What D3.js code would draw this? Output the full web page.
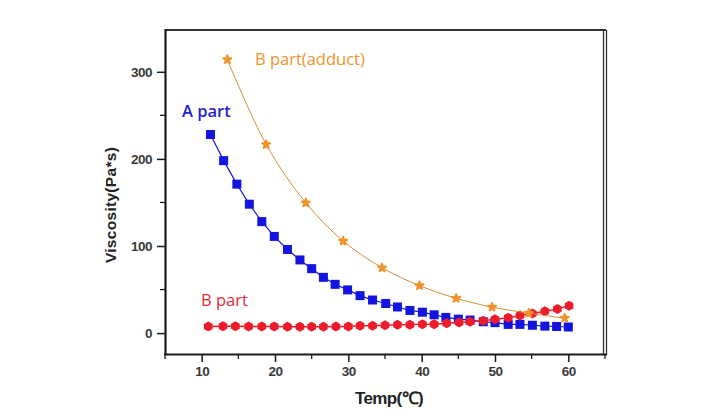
<!DOCTYPE html>
<html>
<head>
<meta charset="utf-8">
<script src="https://cdn.jsdelivr.net/npm/d3@7"></script>
<style>
  html, body { margin: 0; padding: 0; background: #fff; }
  svg { display: block; }
</style>
</head>
<body>
<svg id="chart" width="728" height="419"></svg>
<script>
// ---- data ----
const aTemps = [11.2, 13.0, 14.8, 16.5, 18.2, 19.9, 21.7, 23.4, 25.0, 26.6, 28.2, 29.9, 31.6, 33.3, 35.1,
                36.7, 38.4, 40.1, 41.7, 43.3, 45.0, 46.6, 48.4, 50.0, 51.8, 53.4, 55.1, 56.8, 58.4, 60.0];
const aValues = [228, 198, 171, 148, 128, 111, 96, 84, 74, 64, 56, 49.6, 43, 38, 34,
                 30, 26, 24, 21, 18, 16, 15, 13, 12, 10, 10, 9, 8, 7.6, 7];

const bTemps = [10.9, 12.9, 14.6, 16.4, 18.2, 19.9, 21.7, 23.4, 25.0, 26.6, 28.3, 30.0, 31.6, 33.3, 35.0,
                36.7, 38.4, 40.1, 41.7, 43.4, 45.1, 46.6, 48.4, 50.0, 51.8, 53.4, 55.1, 56.8, 58.5, 60.1];
const bValues = [7.6, 8, 8, 7.6, 7.6, 7.6, 7.2, 7.2, 7.2, 7.2, 7.6, 7.6, 8.3, 8.3, 9.1,
                 9.5, 9.5, 10.3, 10.3, 11.4, 12.2, 12.9, 14.1, 16, 17.5, 20.2, 22.5, 25.2, 27.8, 31.3];

const adductTemps = [13.5, 18.8, 24.2, 29.3, 34.6, 39.7, 44.7, 49.6, 54.6, 59.5];
const adductValues = [314, 216.5, 149.6, 105.7, 75, 54.5, 40, 29.8, 22.9, 17.2];

const xTicks = [10, 20, 30, 40, 50, 60];
const xMinorTicks = [5, 15, 25, 35, 45, 55, 65];
const yTicks = [0, 100, 200, 300];
const yMinorTicks = [50, 150, 250];

const xLabel = "Temp(\u2103)";
const yLabel = "Viscosity(Pa*s)";
const labelA = "A part";
const labelB = "B part";
const labelAdduct = "B part(adduct)";

// ---- drawing ----
const svg = d3.select("#chart");
const L = 165, R = 605, T = 30, B = 354;

const x = d3.scaleLinear().domain([5, 65]).range([L, R]);
const y = d3.scaleLinear().domain([-24, 348]).range([B, T]);

const blue = "#1414e0", red = "#ee1c2a", orange = "#f0932b";
const axisColor = "#1a1a1a";

// frame: top + right double line
svg.append("line").attr("x1", L).attr("x2", R + 1).attr("y1", T).attr("y2", T)
  .attr("stroke", "#333").attr("stroke-width", 2);
svg.append("line").attr("x1", R - 1.5).attr("x2", R - 1.5).attr("y1", T).attr("y2", B)
  .attr("stroke", "#333").attr("stroke-width", 1.3);
svg.append("line").attr("x1", R + 1.5).attr("x2", R + 1.5).attr("y1", T).attr("y2", B + 1)
  .attr("stroke", "#333").attr("stroke-width", 1.3);

// axes
const fontTick = "'Liberation Sans', Arial, sans-serif";
const xAxis = d3.axisBottom(x).tickValues(xTicks).tickSize(8).tickSizeOuter(0).tickPadding(4);
const gx = svg.append("g").attr("transform", `translate(0,${B})`).call(xAxis);
const yAxis = d3.axisLeft(y).tickValues(yTicks).tickSize(8).tickSizeOuter(0).tickPadding(5);
const gy = svg.append("g").attr("transform", `translate(${L},0)`).call(yAxis);

[gx, gy].forEach(g => {
  g.select(".domain").attr("stroke", axisColor).attr("stroke-width", 2.2);
  g.selectAll(".tick line").attr("stroke", axisColor).attr("stroke-width", 1.5);
  g.selectAll(".tick text").attr("fill", "#3a3a3a").attr("font-family", fontTick)
    .attr("font-weight", "bold").attr("font-size", 13.5).attr("letter-spacing", -0.5);
});
// extend axis domains to meet corners
gx.select(".domain").attr("d", `M${L - 1},0.5H${R + 2}`);
gy.select(".domain").attr("d", `M0.5,${T - 1}V${B + 1}`);

// minor ticks
svg.append("g").selectAll("line").data(xMinorTicks).join("line")
  .attr("x1", d => x(d)).attr("x2", d => x(d)).attr("y1", B).attr("y2", B + 5)
  .attr("stroke", axisColor).attr("stroke-width", 1.3);
svg.append("g").selectAll("line").data(yMinorTicks).join("line")
  .attr("x1", L - 5).attr("x2", L).attr("y1", d => y(d)).attr("y2", d => y(d))
  .attr("stroke", axisColor).attr("stroke-width", 1.3);

// axis titles
svg.append("text").attr("x", 389).attr("y", 404).attr("text-anchor", "middle")
  .attr("font-family", fontTick).attr("font-weight", "bold").attr("font-size", 17)
  .attr("fill", "#222").attr("letter-spacing", -0.6).text(xLabel);
svg.append("text").attr("transform", "translate(116,205) rotate(-90)").attr("text-anchor", "middle")
  .attr("font-family", fontTick).attr("font-weight", "bold").attr("font-size", 15.5)
  .attr("fill", "#222").attr("letter-spacing", 0.3).text(yLabel);

// series
const aData = aTemps.map((t, i) => [t, aValues[i]]);
const bData = bTemps.map((t, i) => [t, bValues[i]]);
const adData = adductTemps.map((t, i) => [t, adductValues[i]]);

const line = d3.line().x(d => x(d[0])).y(d => y(d[1]));
const smooth = d3.line().x(d => x(d[0])).y(d => y(d[1])).curve(d3.curveCatmullRom.alpha(0.5));

// A part
svg.append("path").datum(aData).attr("d", line).attr("fill", "none")
  .attr("stroke", blue).attr("stroke-width", 1.2);
svg.append("g").selectAll("rect").data(aData).join("rect")
  .attr("x", d => x(d[0]) - 4.5).attr("y", d => y(d[1]) - 4.5)
  .attr("width", 9).attr("height", 9).attr("fill", blue);

// B part
svg.append("path").datum(bData).attr("d", line).attr("fill", "none")
  .attr("stroke", red).attr("stroke-width", 1.5);
const hex = d3.line()(d3.range(6).map(k => {
  const a = Math.PI / 6 + k * Math.PI / 3;
  return [5 * Math.cos(a), 5 * Math.sin(a)];
})) + "Z";
svg.append("g").selectAll("path").data(bData).join("path")
  .attr("transform", d => `translate(${x(d[0])},${y(d[1])})`)
  .attr("d", hex).attr("fill", red);

// B part (adduct)
svg.append("path").datum(adData).attr("d", smooth).attr("fill", "none")
  .attr("stroke", "#d98a3a").attr("stroke-width", 1);
const star = d3.symbol().type(d3.symbolStar).size(20);
svg.append("g").selectAll("path").data(adData).join("path")
  .attr("transform", d => `translate(${x(d[0])},${y(d[1])})`)
  .attr("d", star).attr("fill", orange).attr("stroke", orange).attr("stroke-width", 2)
  .attr("stroke-linejoin", "round");

// series labels
const fontLabel = "'Open Sans', 'Noto Sans', sans-serif";
svg.append("text").attr("x", 255).attr("y", 65).attr("font-family", fontLabel)
  .attr("font-size", 16.5).attr("fill", orange).text(labelAdduct);
svg.append("text").attr("x", 182).attr("y", 117).attr("font-family", fontLabel)
  .attr("font-size", 16.5).attr("font-weight", 600).attr("fill", "#2020d8").text(labelA);
svg.append("text").attr("x", 201).attr("y", 306).attr("font-family", fontLabel)
  .attr("font-size", 16.5).attr("fill", "#e8283a").text(labelB);
</script>
</body>
</html>
